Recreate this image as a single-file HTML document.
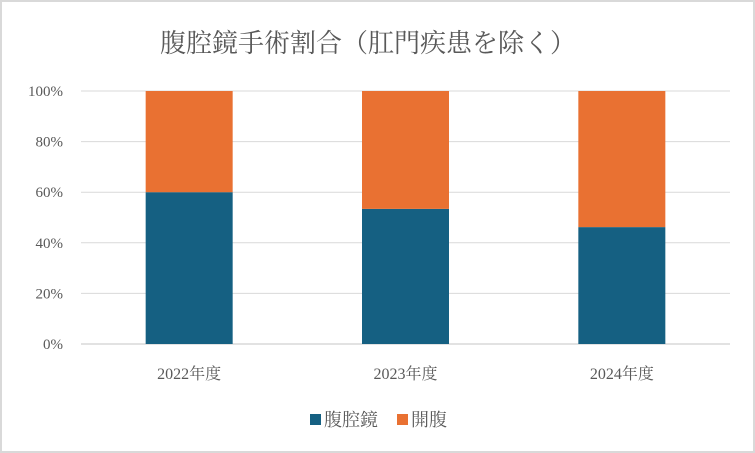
<!DOCTYPE html>
<html><head><meta charset="utf-8"><style>
body{margin:0;background:#fff}
svg{display:block;font-family:"Liberation Serif","Noto Serif CJK SC","Noto Sans CJK JP",serif}
</style></head><body>
<svg width="755" height="453" viewBox="0 0 755 453">
<rect x="1" y="1" width="753" height="451" fill="#fff" stroke="#d9d9d9" stroke-width="2"/>
<text x="368" y="52" text-anchor="middle" font-size="26" fill="#595959">腹腔鏡手術割合（肛門疾患を除く）</text>
<g id="grid"></g><g id="bars"></g><g id="labels"></g>
<g>
<rect x="310" y="414" width="11" height="11" fill="#156082"/>
<text x="324" y="426" font-size="18" fill="#595959">腹腔鏡</text>
<rect x="397" y="414" width="11" height="11" fill="#e97132"/>
<text x="411" y="426" font-size="18" fill="#595959">開腹</text>
</g>
</svg>
<script>
const categories=["2022年度","2023年度","2024年度"];
const laparoscopy=[60,53.4,46.2];
const openSurgery=[40,46.6,53.8];
const yTicks=[0,20,40,60,80,100];
const NS="http://www.w3.org/2000/svg";
const x0=81,x1=730,yTop=91,yBot=344;
const y=v=>yBot-(v/100)*(yBot-yTop);
const band=(x1-x0)/categories.length;
const bw=87;
function mk(t,a,p){const e=document.createElementNS(NS,t);for(const k in a)e.setAttribute(k,a[k]);p.appendChild(e);return e;}
const grid=document.getElementById('grid'),bars=document.getElementById('bars'),labels=document.getElementById('labels');
yTicks.forEach(v=>{
 const l=mk('line',{x1:x0,x2:x1,y1:y(v),y2:y(v),stroke:'#d9d9d9','stroke-width':v===0?1.5:1},grid);
 
 
 const t=mk('text',{x:63,y:y(v)+5,'text-anchor':'end','font-size':15,fill:'#595959'},labels);
 t.textContent=v+'%';
 
 
});
categories.forEach((c,i)=>{
 const cx=x0+band*(i+0.5),bx=cx-bw/2;
 const a=laparoscopy[i],b=openSurgery[i];
 const r1=mk('rect',{x:bx,y:y(a),width:bw,height:y(0)-y(a),fill:'#156082'},bars);
 
 
 const r2=mk('rect',{x:bx,y:y(a+b),width:bw,height:y(a)-y(a+b),fill:'#e97132'},bars);
 
 
 const t=mk('text',{x:cx,y:379,'text-anchor':'middle','font-size':16,fill:'#595959'},labels);
 t.textContent=c;
 
 
});
</script>
</body></html>
